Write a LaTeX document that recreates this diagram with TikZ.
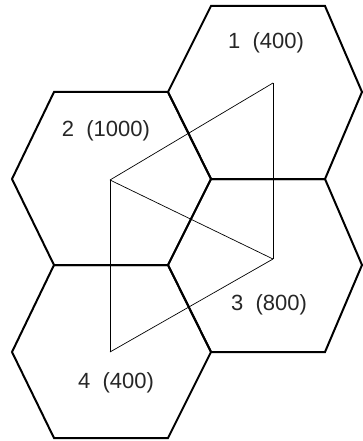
\documentclass[tikz,border=0pt]{standalone}
\usepackage{fontspec}
\setmainfont{Liberation Sans}
\begin{document}
\begin{tikzpicture}[x=1pt,y=-1pt,
  hexline/.style={draw=black,line width=2pt,line join=miter},
  link/.style={draw=black,line width=0.7pt},
  celllabel/.style={font=\fontsize{22}{26}\selectfont,text=black!85,inner sep=0pt}]
\useasboundingbox (0,0) rectangle (363,441);
% hexagon cells
\draw[hexline] (211,6) -- (325,6) -- (362,92) -- (325,179) -- (211,179) -- (168,92) -- cycle;
\draw[hexline] (54,92) -- (168,92) -- (211,179) -- (168,265) -- (54,265) -- (12,179) -- cycle;
\draw[hexline] (211,179) -- (325,179) -- (362,265) -- (325,352) -- (211,352) -- (168,265) -- cycle;
\draw[hexline] (54,265) -- (168,265) -- (211,352) -- (168,438) -- (54,438) -- (12,352) -- cycle;
% link vertices
\coordinate (a) at (273,83);
\coordinate (b) at (110,180);
\coordinate (c) at (273,259);
\coordinate (d) at (110,352);
\draw[link] (a) -- (b);
\draw[link] (a) -- (c);
\draw[link] (b) -- (c);
\draw[link] (b) -- (d);
\draw[link] (c) -- (d);
% labels
\node[celllabel] (l1) at (266,42.5) {1\ \ (400)};
\node[celllabel] (l2) at (106,131) {2\ \ (1000)};
\node[celllabel] (l3) at (269,305) {3\ \ (800)};
\node[celllabel] (l4) at (116,383) {4\ \ (400)};
\end{tikzpicture}
\end{document}
